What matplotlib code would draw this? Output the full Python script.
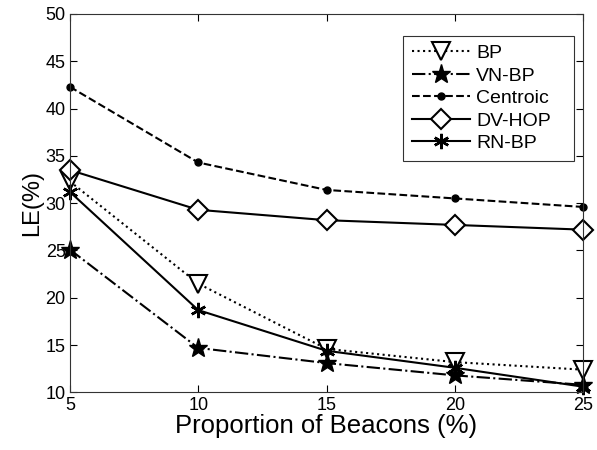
import matplotlib
matplotlib.use("Agg")
import matplotlib.pyplot as plt

plt.rcParams['font.family'] = ['Liberation Sans', 'DejaVu Sans']

# proportion of beacons (%)
beacons = [5, 10, 15, 20, 25]

# localization error (%) per method
bp = [32.3, 21.5, 14.6, 13.2, 12.4]
vn_bp = [25.1, 14.7, 13.1, 11.8, 10.8]
centroic = [42.3, 34.3, 31.4, 30.5, 29.6]
dv_hop = [33.5, 29.3, 28.2, 27.7, 27.2]
rn_bp = [31.2, 18.7, 14.4, 12.6, 10.6]

fig = plt.figure(figsize=(5.97, 4.5), dpi=100)
ax = fig.add_axes([0.117, 0.128, 0.860, 0.841])

ax.plot(beacons, bp, color='k', ls=':', lw=1.5, marker='v', ms=13,
        mfc='white', mec='k', mew=1.5, label='BP', clip_on=False)
ax.plot(beacons, vn_bp, color='k', ls='-.', lw=1.5, marker='*', ms=14,
        mfc='k', mec='k', label='VN-BP', clip_on=False)
ax.plot(beacons, centroic, color='k', ls='--', lw=1.5, marker='o', ms=5,
        mfc='k', mec='k', label='Centroic', clip_on=False)
ax.plot(beacons, dv_hop, color='k', ls='-', lw=1.5, marker='D', ms=10,
        mfc='white', mec='k', mew=1.5, label='DV-HOP', clip_on=False)
ax.plot(beacons, rn_bp, color='k', ls='-', lw=1.5, marker=(6, 2, 0), ms=11,
        mfc='k', mec='k', mew=1.8, label='RN-BP', clip_on=False)

ax.set_xlim(5, 25)
ax.set_ylim(10, 50)
ax.set_xticks(beacons)
ax.set_yticks(range(10, 51, 5))
ax.tick_params(direction='in', top=True, right=True, labelsize=13, length=5, pad=3)
for s in ax.spines.values():
    s.set_linewidth(0.8)
    s.set_color('#333333')

ax.set_xlabel('Proportion of Beacons (%)', fontsize=18.5, labelpad=0)
ax.set_ylabel('LE(%)', fontsize=17, labelpad=2)

leg = ax.legend(loc='upper left', bbox_to_anchor=(0.649, 0.5, 0.333, 0.442),
                mode='expand', borderaxespad=0,
                fontsize=14, frameon=True, fancybox=False, edgecolor='k',
                handlelength=3.0, borderpad=0.45, labelspacing=0.25,
                handletextpad=0.3)
leg.get_frame().set_linewidth(0.8)

fig.savefig('out.png', dpi=100)
